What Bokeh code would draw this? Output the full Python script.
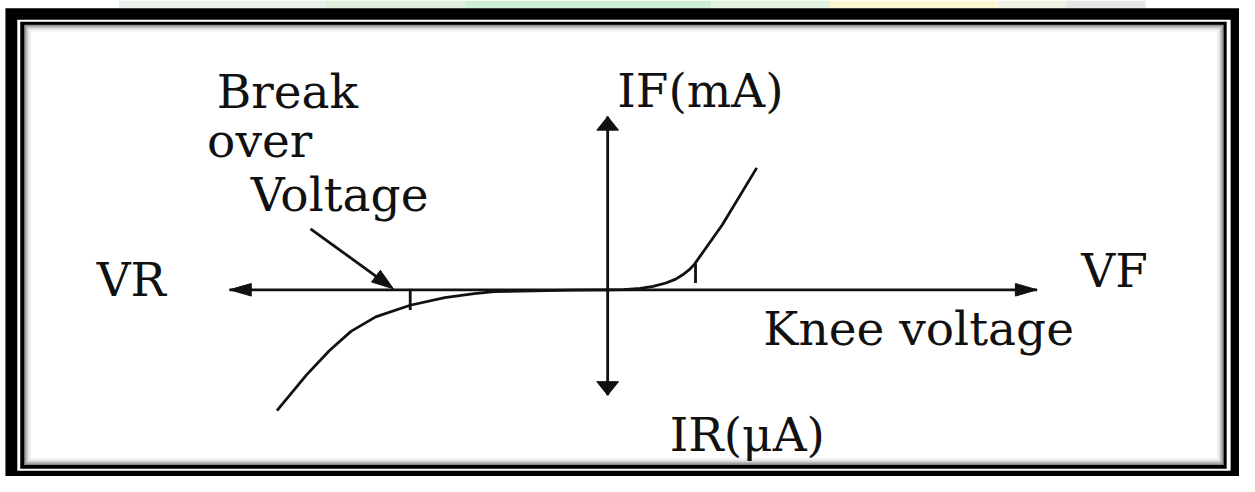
import math
from bokeh.plotting import figure
from bokeh.models import Range1d
from bokeh.core.properties import value
from bokeh.embed import file_html
from bokeh.resources import INLINE

# ---- data (arbitrary units: voltage to the right, current upward) ----
forward_v = [0.0, 0.16, 0.33, 0.46, 0.59, 0.69, 0.76, 0.83, 0.88, 1.16, 1.51]
forward_i = [0.0, 0.002, 0.015, 0.035, 0.07, 0.11, 0.155, 0.21, 0.265, 0.67, 1.26]
reverse_v = [0.0, -0.35, -0.75, -1.15, -1.35, -1.65, -2.0, -2.35, -2.6, -2.82, -3.05, -3.35]
reverse_i = [0.0, -0.003, -0.01, -0.02, -0.04, -0.08, -0.16, -0.28, -0.43, -0.63, -0.88, -1.25]

knee_v = [0.89, 0.89]
knee_i = [0.27, 0.07]
break_v = [-2.0, -2.0]
break_i = [0.01, -0.21]

axis_v = [-3.83, 4.35]       # VR ... VF
axis_i = [-1.09, 1.79]       # IR ... IF

pointer_v = [-3.01, -2.17]   # "Break over Voltage" pointer
pointer_i = [0.63, 0.01]

labels = ["Break", "over", "Voltage", "IF(mA)", "VR", "VF", "Knee voltage", "IR(μA)"]

# ---- layout helpers (picture units: 100 per unit, origin at the axes crossing) ----
PX = 100.0
OX, OY = 615, 299
IMG_W, IMG_H = 1255, 492


def X(px):
    return (px - OX) / PX


def Y(py):
    return (OY - py) / PX


W, H = 1239, 476
p = figure(width=W, height=H, output_backend="svg", toolbar_location=None,
           x_range=Range1d(X(0), X(IMG_W)), y_range=Range1d(Y(IMG_H), Y(0)),
           min_border=0, outline_line_color=None,
           background_fill_color="white", border_fill_color="white")
p.axis.visible = False
p.grid.visible = False

# ---- faint coloured strip above the frame ----
strip = [
    (120, 330, "#e9efe9"),
    (330, 470, "#dfeedd"),
    (470, 720, "#cdeed3"),
    (720, 840, "#e3f3df"),
    (840, 1010, "#fbf6cf"),
    (1010, 1080, "#eef3e4"),
    (1080, 1160, "#e6e6e6"),
]
p.quad(left=[X(s[0]) for s in strip], right=[X(s[1]) for s in strip],
       top=[Y(0)] * len(strip), bottom=[Y(8)] * len(strip),
       fill_color=[s[2] for s in strip], line_color=None)

# ---- double black frame with inner shadow ----
layers = [
    (5, 8, 1255, 492, "black"),
    (17, 20, 1246, 486, "white"),
    (20, 22, 1242, 484, "black"),
    (24, 25, 1239, 480, "#8a8a8a"),
    (25, 26, 1238, 479, "#a4a4a4"),
    (26, 27, 1237, 478, "#bcbcbc"),
    (27, 28, 1236, 477, "#d2d2d2"),
    (28, 29, 1235, 476, "#e4e4e4"),
    (29, 30, 1234, 475, "#f1f1f1"),
    (31, 32, 1232, 473, "white"),
]
p.quad(left=[X(l[0]) for l in layers], top=[Y(l[1]) for l in layers],
       right=[X(l[2]) for l in layers], bottom=[Y(l[3]) for l in layers],
       fill_color=[l[4] for l in layers], line_color=None)

LW = 2.8
COL = "#111111"

# axes
p.line(axis_v, [0, 0], line_width=LW, line_color=COL)
p.line([0, 0], axis_i, line_width=LW, line_color=COL)


def head(tip_x, tip_y, dx, dy, length, half):
    n = math.hypot(dx, dy)
    ux, uy = dx / n, dy / n
    bx, by = tip_x - ux * length / PX, tip_y - uy * length / PX
    nx, ny = -uy * half / PX, ux * half / PX
    return [tip_x, bx + nx, bx - nx], [tip_y, by + ny, by - ny]


heads = [
    head(axis_v[0], 0, -1, 0, 22, 6.5),
    head(axis_v[1], 0, 1, 0, 22, 6.5),
    head(0, axis_i[1], 0, 1, 14, 11),
    head(0, axis_i[0], 0, -1, 14, 11),
    head(pointer_v[1], pointer_i[1], pointer_v[1] - pointer_v[0], pointer_i[1] - pointer_i[0], 22, 7.5),
]
p.patches([h[0] for h in heads], [h[1] for h in heads], fill_color=COL, line_color=COL, line_width=1)

# curves
p.line(forward_v, forward_i, line_width=LW, line_color=COL)
p.line(reverse_v, reverse_i, line_width=LW, line_color=COL)
p.line(knee_v, knee_i, line_width=LW, line_color=COL)
p.line(break_v, break_i, line_width=LW, line_color=COL)

# pointer shaft (stops inside the head)
p.line([pointer_v[0], pointer_v[0] + (pointer_v[1] - pointer_v[0]) * 0.85],
       [pointer_i[0], pointer_i[0] + (pointer_i[1] - pointer_i[0]) * 0.85],
       line_width=LW, line_color=COL)

# labels (baseline correction for the renderer's text placement)
TEXT_DY = 18.6
lx = [X(290.5), X(262.5), X(343.5), X(709), X(132.5), X(1128.5), X(930), X(756.5)]
ly = [Y(b - TEXT_DY) for b in (113, 163, 219, 112, 307, 298, 358, 467)]
p.text(x=lx, y=ly, text=labels, text_font=value("DejaVu Serif"), text_font_size="47px",
       text_align="center", text_baseline="alphabetic", text_color=COL)

open("out.html", "w").write(file_html(p, INLINE))
